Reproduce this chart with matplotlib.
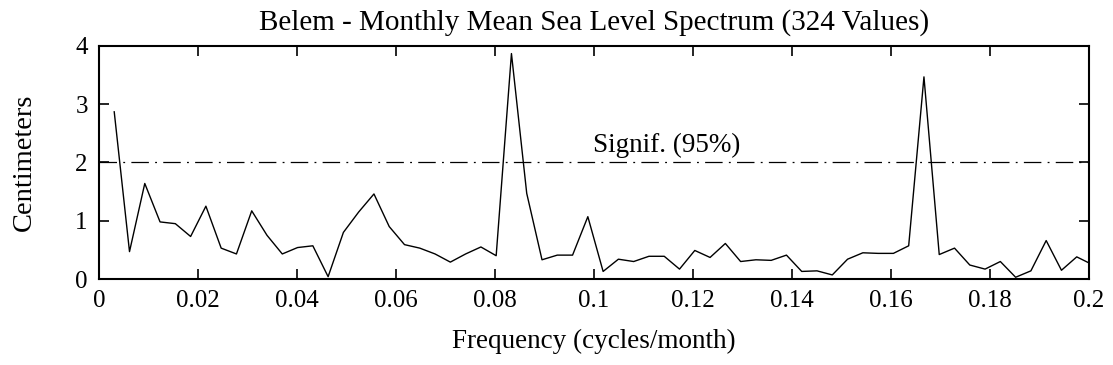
#!/usr/bin/env python3
"""Belem monthly mean sea level amplitude spectrum (324 monthly values)."""

import matplotlib

matplotlib.use("Agg")
import matplotlib.pyplot as plt
import numpy as np

N_VALUES = 324

# amplitude (cm) at harmonic k = 1, 2, ... (frequency k / 324 cycles/month)
amplitude = [
    2.87, 0.47, 1.64, 0.98, 0.95, 0.73, 1.25, 0.53, 0.43, 1.17,
    0.75, 0.43, 0.54, 0.57, 0.04, 0.80, 1.15, 1.46, 0.90, 0.59,
    0.53, 0.43, 0.29, 0.43, 0.55, 0.40, 3.87, 1.47, 0.33, 0.41,
    0.41, 1.07, 0.13, 0.34, 0.30, 0.39, 0.39, 0.17, 0.49, 0.37,
    0.61, 0.30, 0.33, 0.32, 0.41, 0.13, 0.14, 0.07, 0.34, 0.45,
    0.44, 0.44, 0.57, 3.47, 0.42, 0.53, 0.24, 0.17, 0.30, 0.03,
    0.14, 0.66, 0.15, 0.38, 0.25,
]
signif_level = 2.0
signif_label = "Signif. (95%)"

xticks = [0, 0.02, 0.04, 0.06, 0.08, 0.1, 0.12, 0.14, 0.16, 0.18, 0.2]
xtick_labels = ["0", "0.02", "0.04", "0.06", "0.08", "0.1", "0.12", "0.14", "0.16", "0.18", "0.2"]
yticks = [0, 1, 2, 3, 4]

freq = np.arange(1, len(amplitude) + 1) / N_VALUES

plt.rcParams.update(
    {
        "font.family": "Liberation Serif",
        "axes.linewidth": 1.5,
    }
)

fig = plt.figure(figsize=(11.13, 3.65), dpi=100)
ax = fig.add_axes([0.0889, 0.2356, 0.8895, 0.6384])

ax.plot(freq, amplitude, color="black", linewidth=1.0)
ax.axhline(signif_level, color="black", linewidth=0.9, linestyle=(0, (14, 5, 1.5, 5)))
ax.text(0.0998, signif_level + 0.08, signif_label, ha="left", va="bottom", fontsize=19.5)

ax.set_xlim(0, 0.2)
ax.set_ylim(0, 4)
ax.set_xticks(xticks)
ax.set_xticklabels(xtick_labels)
ax.set_yticks(yticks)
ax.tick_params(axis="both", direction="in", length=7, width=1.2, labelsize=18,
               top=True, right=True, pad=8)

ax.set_title("Belem - Monthly Mean Sea Level Spectrum (324 Values)", fontsize=21, pad=12)
ax.set_xlabel("Frequency (cycles/month)", fontsize=19.5, labelpad=12)
ax.set_ylabel("Centimeters", fontsize=20.5, labelpad=28)

fig.savefig("out.png", dpi=100, facecolor="white")
plt.close(fig)
